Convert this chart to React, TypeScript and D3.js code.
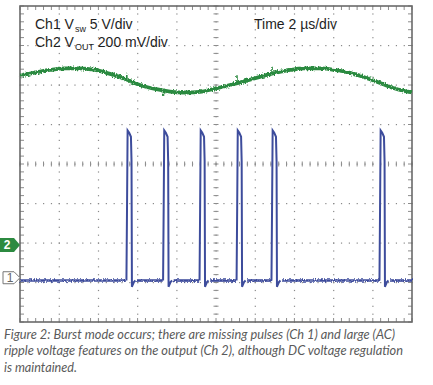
import React from "react";
import * as d3 from "d3";

const W = 433;
const H = 385;

// Ch2 V_OUT (200 mV/div): time in µs, level in mV above the Ch2 marker
const ch2Time = [0, 0.77, 1.53, 2.3, 3.06, 3.83, 4.59, 5.36, 6.12, 6.89, 7.65, 8.42, 9.18, 9.95, 10.71, 11.48, 12.24, 13.01, 13.78, 14.54, 15.31, 16.07, 16.84, 17.6, 18.37, 19.13, 20];
const ch2Mv = [858, 873, 886, 894, 894, 886, 866, 841, 810, 790, 777, 772, 775, 792, 810, 830, 851, 871, 886, 894, 894, 886, 871, 848, 820, 792, 772];

// small switching glitches on Ch2
const glitchTime = [5.45, 7.32, 9.18, 11.07, 12.86, 18.36];
const glitchMv = [30, -28, 15, 40, 35, 14];

// Ch1 V_SW (5 V/div): pulse start times (µs) and one pulse shape
const pulseStart = [5.43, 7.3, 9.16, 11.05, 12.83, 18.34];
const pulseDt = [0, 0.03, 0.06, 0.14, 0.23, 0.26, 0.28, 0.31, 0.38, 0.46];
const pulseV = [-0.1, 9, 18.9, 18.6, 18.1, 15, -0.9, -0.7, -0.3, -0.1];
const ch1Base = -0.1;

const ch1Offset = -2.93; // divisions
const ch2Offset = -2.05;

const captionLines = [
  "Figure 2: Burst mode occurs; there are missing pulses (Ch 1) and large (AC)",
  "ripple voltage features on the output (Ch 2), although DC voltage regulation",
  "is maintained.",
];
const captionWidths = [391, 399, 73];

const left = 20, right = 412, top = 6, bottom = 322;

export default function App() {
  const x = d3.scaleLinear().domain([0, 20]).range([left, right]);
  const yDiv = d3.scaleLinear().domain([-4, 4]).range([bottom, top]);
  const y1 = (v: number) => yDiv(ch1Offset + v / 5);
  const y2 = (mv: number) => yDiv(ch2Offset + mv / 200);

  const majorT = d3.range(0, 20.001, 2);
  const minorT = d3.range(0, 20.001, 0.4);
  const majorD = d3.range(-4, 4.001, 1);
  const minorD = d3.range(-4, 4.001, 0.2);

  const dots: JSX.Element[] = [];
  majorT.forEach((t) => {
    if (t === 0 || t === 20) return;
    minorD.forEach((d, i) =>
      dots.push(<rect key={`v${t}-${i}`} x={x(t) - 0.5} y={yDiv(d) - 0.5} width={1.2} height={1.2} fill="#8a8a8a" />)
    );
  });
  majorD.forEach((d) => {
    if (d === -4 || d === 4) return;
    minorT.forEach((t, i) =>
      dots.push(<rect key={`h${d}-${i}`} x={x(t) - 0.5} y={yDiv(d) - 0.5} width={1.2} height={1.2} fill="#8a8a8a" />)
    );
  });

  const ticks: JSX.Element[] = [];
  minorT.forEach((t, i) => {
    const xx = x(t);
    ticks.push(<line key={`ct${i}`} x1={xx} x2={xx} y1={yDiv(0) - 2.5} y2={yDiv(0) + 2.5} />);
    ticks.push(<line key={`tt${i}`} x1={xx} x2={xx} y1={top} y2={top + 4} />);
    ticks.push(<line key={`bt${i}`} x1={xx} x2={xx} y1={bottom - 4} y2={bottom} />);
  });
  minorD.forEach((d, i) => {
    const yy = yDiv(d);
    ticks.push(<line key={`cd${i}`} x1={x(10) - 2.5} x2={x(10) + 2.5} y1={yy} y2={yy} />);
    ticks.push(<line key={`ld${i}`} x1={left} x2={left + 4} y1={yy} y2={yy} />);
    ticks.push(<line key={`rd${i}`} x1={right - 4} x2={right} y1={yy} y2={yy} />);
  });

  const line1 = d3.line<[number, number]>().x((d) => x(d[0])).y((d) => y1(d[1]));
  const ch2Pts = ch2Time.map((t, i) => [t, ch2Mv[i]] as [number, number]);
  const line2 = d3
    .line<[number, number]>()
    .x((d) => x(d[0]))
    .y((d) => y2(d[1]))
    .curve(d3.curveMonotoneX);
  const ch2At = d3.scaleLinear().domain(ch2Time).range(ch2Mv);

  // baseline pieces between pulses (drawn thicker/noisy like the scope trace)
  const gaps: [number, number][] = [];
  let from = 0;
  pulseStart.forEach((s) => {
    gaps.push([from, s - 0.02]);
    from = s + pulseDt[pulseDt.length - 1] + 0.08;
  });
  gaps.push([from, 20]);

  const blue = "#3d4c9c";
  const green = "#2c8a40";
  const m2 = yDiv(ch2Offset);
  const m1 = yDiv(ch1Offset) - 2;

  return (
    <svg width={W} height={H} style={{ position: "absolute", left: 0, top: 0, background: "#fff" }}>
      <defs>
        <filter id="noise" filterUnits="userSpaceOnUse" x={0} y={0} width={W} height={H}>
          <feTurbulence type="fractalNoise" baseFrequency="0.9 0.5" numOctaves={2} seed={3} result="n" />
          <feDisplacementMap in="SourceGraphic" in2="n" scale={4} xChannelSelector="R" yChannelSelector="G" />
        </filter>
      </defs>
      <g>{dots}</g>
      <g stroke="#8c8c8c" strokeWidth={1}>{ticks}</g>
      <rect x={left} y={top} width={right - left} height={bottom - top} fill="none" stroke="#6a6a6a" strokeWidth={1.6} />

      <g fontFamily="'Liberation Sans', Arial, sans-serif" fontSize={14} fill="#1e1e1e">
        <text x={35} y={29}>
          Ch1 V<tspan fontSize={9} dx={1} dy={3}>sw</tspan>
          <tspan dy={-3}> 5 V/div</tspan>
        </text>
        <text x={35} y={47}>
          Ch2 V<tspan fontSize={9} dx={1} dy={3}>OUT</tspan>
          <tspan dy={-3}> 200 mV/div</tspan>
        </text>
        <text x={254} y={29}>Time 2 µs/div</text>
      </g>

      <g filter="url(#noise)">
        <path d={line2(ch2Pts) ?? ""} fill="none" stroke={green} strokeWidth={3.8} strokeLinejoin="round" />
        {glitchTime.map((t, i) => (
          <line key={i} x1={x(t)} x2={x(t)} y1={y2(ch2At(t))} y2={y2(ch2At(t) + glitchMv[i])} stroke={green} strokeWidth={1.6} />
        ))}
        {gaps.map((g, i) => (
          <path key={`g${i}`} d={line1([[g[0], ch1Base], [g[1], ch1Base]]) ?? ""} stroke={blue} strokeWidth={2.6} fill="none" />
        ))}
      </g>

      {pulseStart.map((s, i) => (
        <path
          key={`p${i}`}
          d={line1(pulseDt.map((dt, j) => [s + dt, pulseV[j]] as [number, number])) ?? ""}
          fill="none"
          stroke={blue}
          strokeWidth={2}
          strokeLinejoin="miter"
        />
      ))}

      <path d={`M0,${m2 - 7}H14L20,${m2}L14,${m2 + 7}H0Z`} fill={green} />
      <text x={7} y={m2 + 4.5} fontFamily="'Liberation Sans', Arial, sans-serif" fontWeight="bold" fontSize={12} fill="#fff" textAnchor="middle">2</text>
      <path d={`M3,${m1 - 6}H14L20,${m1}L14,${m1 + 6}H3Z`} fill="#fff" stroke="#777" strokeWidth={1} />
      <text x={10} y={m1 + 4.5} fontFamily="'Liberation Sans', Arial, sans-serif" fontSize={12} fill="#666" textAnchor="middle">1</text>

      <g fontFamily="Lato, 'Open Sans', sans-serif" fontStyle="italic" fontSize={13} fill="#5a5a5a">
        {captionLines.map((c, i) => (
          <text key={i} x={4} y={339 + i * 16.3} textLength={captionWidths[i]} lengthAdjust="spacingAndGlyphs">
            {c}
          </text>
        ))}
      </g>
    </svg>
  );
}
